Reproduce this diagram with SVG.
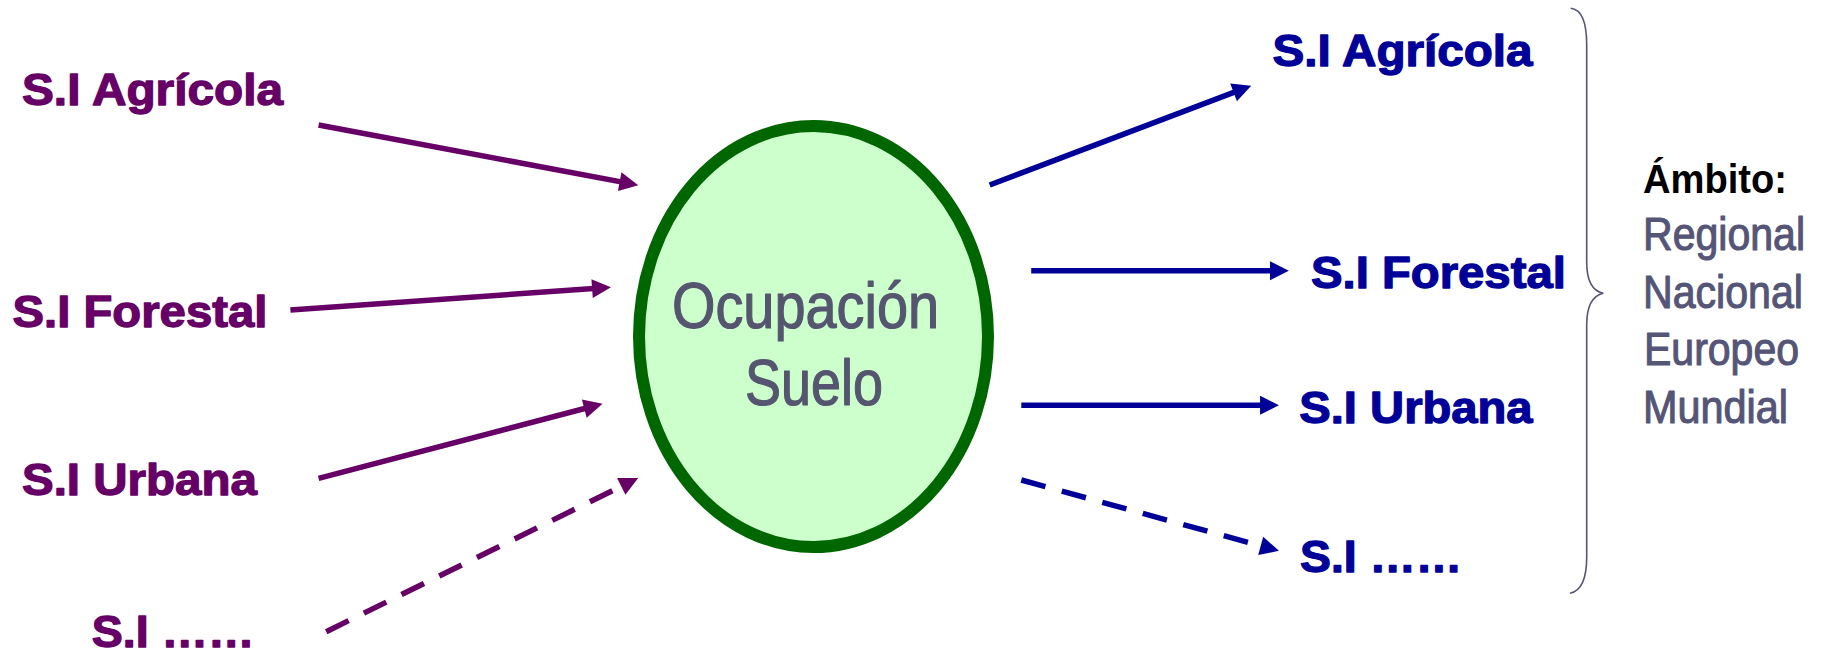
<svg xmlns="http://www.w3.org/2000/svg" width="1822" height="653" viewBox="0 0 1822 653">
<style>
.lbl{font-family:"Liberation Sans",Arial,sans-serif;font-weight:bold;font-size:45px;stroke-width:1.3;stroke-linejoin:round}
.in{fill:#660066;stroke:#660066}
.out{fill:#000099;stroke:#000099}
.cin{stroke:#660066;stroke-width:5.5;fill:none}
.cout{stroke:#000099;stroke-width:5.5;fill:none}
.dash{stroke-dasharray:25 17}
.core{font-family:"Liberation Sans",Arial,sans-serif;font-size:64px;fill:#555570;stroke:#555570;stroke-width:1.2;stroke-linejoin:round}
.amb{font-family:"Liberation Sans",Arial,sans-serif;font-size:46px;fill:#555577;stroke:#555577;stroke-width:1.1;stroke-linejoin:round}
</style>
<defs>
<marker id="ahIn" markerUnits="userSpaceOnUse" markerWidth="20" markerHeight="20" viewBox="0 -9 17 18" refX="11" refY="0" orient="auto"><path d="M0,-8.5 L17,0 L0,8.5 z" fill="#660066"/></marker>
<marker id="ahOut" markerUnits="userSpaceOnUse" markerWidth="20" markerHeight="20" viewBox="0 -9 17 18" refX="11" refY="0" orient="auto"><path d="M0,-8.5 L17,0 L0,8.5 z" fill="#000099"/></marker>
</defs>
<rect width="1822" height="653" fill="#ffffff"/>
<g id="connectors">
<line class="cin" x1="318.6" y1="125" x2="631.7" y2="183.9" marker-end="url(#ahIn)"/>
<line class="cin" x1="290.4" y1="310" x2="604.3" y2="287.7" marker-end="url(#ahIn)"/>
<line class="cin" x1="318.6" y1="478.3" x2="596.1" y2="405.5" marker-end="url(#ahIn)"/>
<line class="cin dash" x1="326.2" y1="631.7" x2="632.2" y2="481" marker-end="url(#ahIn)"/>
<line class="cout" x1="989.7" y1="185" x2="1245" y2="88.1" marker-end="url(#ahOut)"/>
<line class="cout" x1="1031.2" y1="270.7" x2="1282.2" y2="270.7" marker-end="url(#ahOut)"/>
<line class="cout" x1="1021.3" y1="405.3" x2="1272.3" y2="405.3" marker-end="url(#ahOut)"/>
<line class="cout dash" x1="1021.3" y1="480" x2="1272.5" y2="549.1" marker-end="url(#ahOut)"/>
</g>
<g id="in-agricola"><text class="lbl in" x="22" y="105" textLength="261" lengthAdjust="spacingAndGlyphs">S.I Agrícola</text></g>
<g id="in-forestal"><text class="lbl in" x="12.6" y="326.7" textLength="254.7" lengthAdjust="spacingAndGlyphs">S.I Forestal</text></g>
<g id="in-urbana"><text class="lbl in" x="22" y="495" textLength="234.8" lengthAdjust="spacingAndGlyphs">S.I Urbana</text></g>
<g id="in-otros"><text class="lbl in" x="91.8" y="646.5" textLength="162.8" lengthAdjust="spacingAndGlyphs">S.I ……</text></g>
<g id="ocupacion-suelo">
<ellipse cx="813.5" cy="336.5" rx="174.5" ry="210.5" fill="#CCFFCC" stroke="#006600" stroke-width="12"/>
<text class="core" x="672" y="328" textLength="267" lengthAdjust="spacingAndGlyphs">Ocupación</text>
<text class="core" x="745" y="405" textLength="138" lengthAdjust="spacingAndGlyphs">Suelo</text>
</g>
<g id="out-agricola"><text class="lbl out" x="1272.4" y="66" textLength="260.2" lengthAdjust="spacingAndGlyphs">S.I Agrícola</text></g>
<g id="out-forestal"><text class="lbl out" x="1311" y="288.3" textLength="254.8" lengthAdjust="spacingAndGlyphs">S.I Forestal</text></g>
<g id="out-urbana"><text class="lbl out" x="1299.3" y="423.3" textLength="233.3" lengthAdjust="spacingAndGlyphs">S.I Urbana</text></g>
<g id="out-otros"><text class="lbl out" x="1300" y="571.7" textLength="162.2" lengthAdjust="spacingAndGlyphs">S.I ……</text></g>
<g id="ambito">
<path d="M1570.7,8.3 Q1586.7,10 1586.7,45 L1586.7,262 Q1586.7,290 1603.3,293.3 Q1586.7,297 1586.7,325 L1586.7,557 Q1586.7,590 1570,593.3" fill="none" stroke="#555577" stroke-width="1.6"/>
<text x="1643" y="193" font-family="Liberation Sans, Arial, sans-serif" font-weight="bold" font-size="40" fill="#000000" textLength="144" lengthAdjust="spacingAndGlyphs">Ámbito:</text>
<text class="amb" x="1643" y="250" textLength="162" lengthAdjust="spacingAndGlyphs">Regional</text>
<text class="amb" x="1643" y="308" textLength="160" lengthAdjust="spacingAndGlyphs">Nacional</text>
<text class="amb" x="1644" y="365" textLength="155" lengthAdjust="spacingAndGlyphs">Europeo</text>
<text class="amb" x="1643" y="423" textLength="145" lengthAdjust="spacingAndGlyphs">Mundial</text>
</g>
</svg>
